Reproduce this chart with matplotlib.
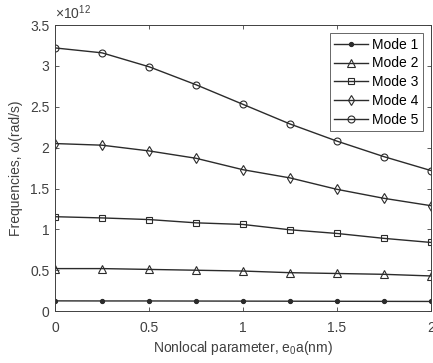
import numpy as np
import matplotlib.pyplot as plt
from matplotlib.ticker import FuncFormatter

plt.rcParams['font.family'] = ['Liberation Sans', 'DejaVu Sans']
plt.rcParams['mathtext.fontset'] = 'custom'
plt.rcParams['mathtext.rm'] = 'Liberation Sans'
plt.rcParams['mathtext.it'] = 'Liberation Sans'

e0a = [0, 0.25, 0.5, 0.75, 1.0, 1.25, 1.5, 1.75, 2.0]
mode1 = [0.125, 0.124, 0.124, 0.123, 0.122, 0.121, 0.120, 0.119, 0.118]
mode2 = [0.52, 0.52, 0.51, 0.50, 0.49, 0.47, 0.46, 0.45, 0.43]
mode3 = [1.155, 1.14, 1.12, 1.08, 1.06, 0.995, 0.95, 0.89, 0.84]
mode4 = [2.05, 2.03, 1.96, 1.87, 1.73, 1.63, 1.49, 1.38, 1.29]
mode5 = [3.22, 3.16, 2.99, 2.77, 2.53, 2.29, 2.08, 1.89, 1.72]
scale = 1e12

modes = [mode1, mode2, mode3, mode4, mode5]
names = ['Mode 1', 'Mode 2', 'Mode 3', 'Mode 4', 'Mode 5']
markers = ['.', '^', 's', 'd', 'o']
msizes = [6, 6, 4, 5, 5]
txt = '#404040'

fig = plt.figure(figsize=(4.33, 3.63), dpi=100)
ax = fig.add_axes([0.127, 0.143, 0.868, 0.788])

for y, name, m, ms in zip(modes, names, markers, msizes):
    ax.plot(e0a, np.array(y) * scale, color='#2b2b2b', lw=1.0,
            marker=m, ms=ms, mfc='none' if m != '.' else '#2b2b2b',
            mec='#2b2b2b', mew=0.8, label=name)

ax.set_xlim(0, 2)
ax.set_ylim(0, 3.5e12)
ax.set_xticks([0, 0.5, 1, 1.5, 2])
ax.set_xticklabels(['0', '0.5', '1', '1.5', '2'])
ax.set_yticks(np.arange(0, 3.51, 0.5) * scale)
ax.yaxis.set_major_formatter(FuncFormatter(lambda v, p: '%g' % (v / scale)))
ax.text(0.0, 1.01, r'$\times10^{12}$', transform=ax.transAxes,
        fontsize=10, color=txt, ha='left', va='bottom')

ax.tick_params(direction='in', top=True, right=True, labelsize=10,
               colors=txt, length=3, width=0.6)
ax.tick_params(axis='x', pad=7)
ax.tick_params(axis='y', pad=4)
for s in ax.spines.values():
    s.set_color(txt)
    s.set_linewidth(0.7)

ax.set_xlabel('Nonlocal parameter, e$_0$a(nm)', fontsize=10, color=txt, labelpad=3)
ax.set_ylabel('Frequencies, ω(rad/s)', fontsize=10, color=txt, labelpad=5)

leg = ax.legend(loc='upper right', fontsize=10, frameon=True, fancybox=False,
                edgecolor=txt, borderaxespad=0.6, handlelength=2.4,
                labelspacing=0.35, borderpad=0.3, handletextpad=0.3)
leg.get_frame().set_linewidth(0.7)

fig.savefig('out.png', dpi=100)
